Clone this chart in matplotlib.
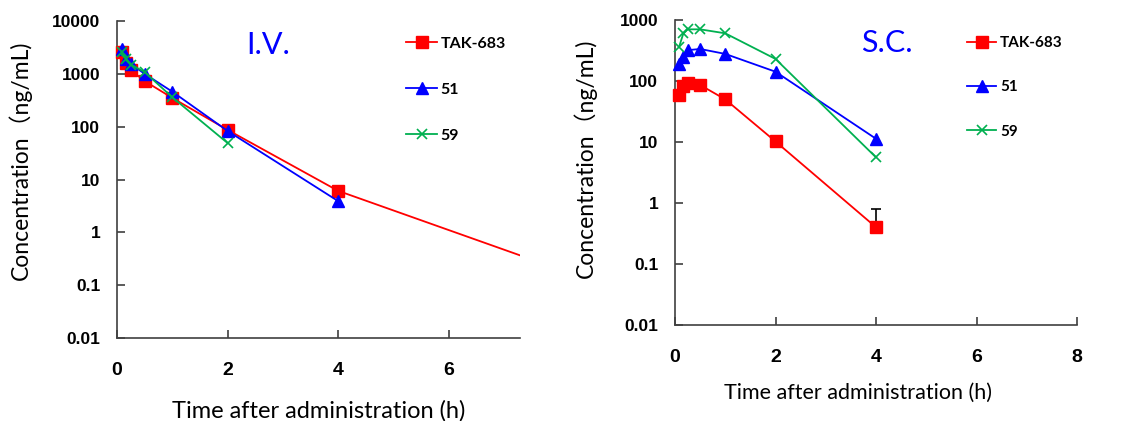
import numpy as np
import matplotlib
matplotlib.use("Agg")
import matplotlib.pyplot as plt

# Sampling times (h)
t = [0.083, 0.167, 0.25, 0.5, 1, 2, 4]
t_iv59 = [0.083, 0.167, 0.25, 0.5, 1, 2]
t_iv_tail = [4, 8]

# Intravenous dosing, plasma concentration (ng/mL)
iv_tak683 = [2570, 1600, 1180, 730, 350, 87, 6.1]
iv_tak683_tail = [6.1, 0.2]
iv_51 = [2950, 1900, 1540, 1000, 460, 83, 3.9]
iv_59 = [2600, 1900, 1500, 1080, 360, 49]

# Subcutaneous dosing, plasma concentration (ng/mL)
sc_tak683 = [59, 83, 94, 86, 50, 10.2, 0.40]
sc_tak683_sd = [4, 6, 7, 5, 3, 1.2, 0.40]
sc_51 = [187, 245, 320, 335, 278, 142, 11.3]
sc_59 = [366, 605, 703, 703, 605, 230, 5.6]

series_names = ["TAK-683", "51", "59"]
y_ticks = [0.01, 0.1, 1, 10, 100, 1000, 10000]
y_tick_labels = ["0.01", "0.1", "1", "10", "100", "1000", "10000"]

RED, BLUE, GREEN = "#ff0000", "#0000ff", "#00b050"
TXT = ["Lato", "Noto Sans CJK SC", "DejaVu Sans"]
TICKF = ["Liberation Sans", "DejaVu Sans"]

fig = plt.figure(figsize=(11.35, 4.21), dpi=100)
W, H = 1135, 421


def px_axes(l, t_, r, b):
    return fig.add_axes([l / W, 1 - b / H, (r - l) / W, (b - t_) / H])


def style(ax, xmax, xticks, ymin, ymax, xlabel_size):
    ax.set_yscale("log")
    ax.set_xlim(0, xmax)
    ax.set_ylim(ymin, ymax)
    for s in ("top", "right"):
        ax.spines[s].set_visible(False)
    for s in ("left", "bottom"):
        ax.spines[s].set_color("#404040")
        ax.spines[s].set_linewidth(1.2)
    ax.set_xticks(xticks)
    ax.set_xticklabels([str(v) for v in xticks], fontfamily=TICKF,
                       fontweight="bold", fontsize=14)
    yt = [v for v in y_ticks if ymin <= v <= ymax]
    ax.set_yticks(yt)
    ax.set_yticklabels([y_tick_labels[y_ticks.index(v)] for v in yt],
                       fontfamily=TICKF, fontweight="bold", fontsize=12.5)
    ax.yaxis.set_minor_locator(matplotlib.ticker.NullLocator())
    ax.tick_params(axis="both", direction="in", length=6, width=1.2,
                   color="#404040")
    ax.tick_params(axis="x", pad=17)
    ax.tick_params(axis="y", pad=12)
    ax.set_ylabel("Concentration（ng/mL)", fontfamily=TXT, fontsize=16.5)
    ax.set_xlabel("Time after administration (h)", fontfamily=TXT,
                  fontsize=xlabel_size)


mk = dict(lw=1.3, clip_on=False, zorder=3)

# ---- I.V. panel ----
ax1 = px_axes(117, 21, 520, 338)
style(ax1, 7.29, [0, 2, 4, 6], 0.01, 10000, 17)
ax1.plot(t_iv_tail, iv_tak683_tail, color=RED, lw=1.3, zorder=2)
ax1.plot(t, iv_tak683, color=RED, marker="s", ms=8, label=series_names[0], **mk)
ax1.plot(t, iv_51, color=BLUE, marker="^", ms=8, label=series_names[1], **mk)
ax1.plot(t_iv59, iv_59, color=GREEN, marker="x", ms=7, mew=1.2,
         label=series_names[2], **mk)
fig.text(268 / W, 1 - 45 / H, "I.V.", fontfamily=TXT, fontsize=22,
         color=BLUE, ha="center", va="center")
ax1.yaxis.set_label_coords(-0.21, 0.56)
ax1.xaxis.set_label_coords(0.5, -0.196)

# ---- S.C. panel ----
ax2 = px_axes(675, 20, 1077, 325)
style(ax2, 8, [0, 2, 4, 6, 8], 0.01, 1000, 15.5)
lo = [s if s < v else 0 for s, v in zip(sc_tak683_sd, sc_tak683)]
ax2.errorbar(t, sc_tak683, yerr=[lo, sc_tak683_sd], fmt="none", ecolor="black",
             elinewidth=1.2, capsize=3.5, capthick=1.2, zorder=2)
ax2.plot(t, sc_tak683, color=RED, marker="s", ms=8, label=series_names[0], **mk)
ax2.plot(t, sc_51, color=BLUE, marker="^", ms=8, label=series_names[1], **mk)
ax2.plot(t, sc_59, color=GREEN, marker="x", ms=7, mew=1.2,
         label=series_names[2], **mk)
fig.text(887 / W, 1 - 43 / H, "S.C.", fontfamily=TXT, fontsize=22,
         color=BLUE, ha="center", va="center")
ax2.yaxis.set_label_coords(-0.194, 0.548)
ax2.xaxis.set_label_coords(0.455, -0.19)

for ax, (lx, ly), sp, fs in ((ax1, (400, 30), 2.0, 11.5),
                             (ax2, (961, 30), 1.98, 11)):
    ax.legend(loc="upper left", bbox_to_anchor=(lx / W, 1 - ly / H),
              bbox_transform=fig.transFigure, frameon=False, handlelength=1.9,
              handletextpad=0.25, labelspacing=sp, borderaxespad=0,
              prop=dict(family=TXT, weight="bold", size=fs))

fig.savefig("out.png", dpi=100)
